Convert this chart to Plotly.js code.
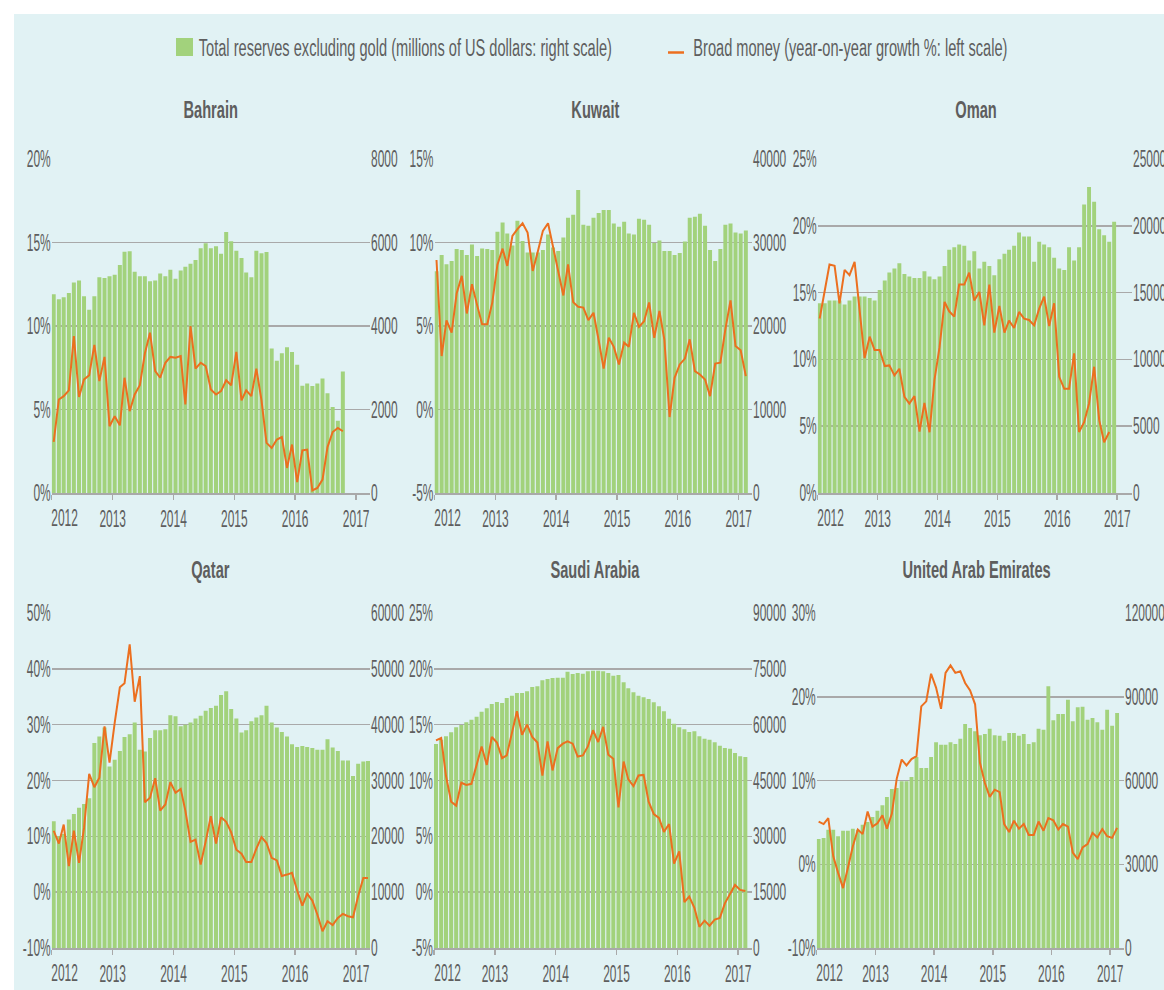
<!DOCTYPE html>
<html><head><meta charset="utf-8">
<script src="https://cdn.plot.ly/plotly-3.0.1.min.js"></script>
<style>html,body{margin:0;padding:0;background:#fff}#chart{width:1164px;height:990px}</style>
</head><body><div id="chart"></div>
<script>
// ---------------- DATA (monthly, starting January 2012) ----------------
const startYear = 2012;
const yearLabels = ['2012','2013','2014','2015','2016','2017'];
const legendReserves = 'Total reserves excluding gold (millions of US dollars: right scale)';
const legendMoney = 'Broad money (year-on-year growth %: left scale)';
const countries = ['Bahrain','Kuwait','Oman','Qatar','Saudi Arabia','United Arab Emirates'];

const bahrainReserves = [4760,4640,4690,4790,5040,5090,4710,4390,4710,5170,5150,5190,
 5230,5460,5780,5790,5300,5190,5190,5070,5090,5260,5190,5350,
 5130,5330,5420,5490,5580,5860,5980,5860,5910,5730,6250,6030,
 5800,5630,5280,5170,5800,5740,5770,3460,3170,3350,3490,3380,
 3070,2570,2620,2560,2620,2740,2390,2060,1730,2910];
const bahrainMoney = [3.06,5.6,5.8,6.15,9.4,5.75,6.8,7.05,8.87,6.7,8.15,4.0,
 4.6,4.05,6.9,4.9,5.9,6.45,8.35,9.6,7.3,6.9,7.8,8.15,
 8.1,8.2,5.3,10.0,7.45,7.8,7.6,6.2,5.9,6.1,6.75,6.45,
 8.45,5.55,6.15,5.8,7.45,5.55,3.0,2.7,3.2,3.35,1.5,2.9,
 0.65,2.55,2.6,0.15,0.3,0.8,2.75,3.65,3.9,3.7];

const kuwaitReserves = [26570,28490,27410,27770,29210,29090,28490,29770,28370,29290,29210,29090,
 31290,32410,31090,29650,32610,30170,28810,28810,28810,29090,30970,29410,
 28970,30610,32970,33330,36280,32130,32010,32970,33530,33890,33890,32290,
 31890,32490,31090,30970,32850,32730,32130,29930,30250,28970,28970,28490,
 28730,30130,32970,33090,33450,32010,29090,27770,29210,32130,32290,31210,
 31090,31450];
const kuwaitMoney = [8.95,3.2,5.33,4.6,6.95,8.0,5.75,7.5,6.25,5.1,5.1,6.4,
 8.67,9.63,8.6,10.4,10.8,11.15,10.6,8.3,9.47,10.7,11.15,9.67,
 8.2,6.83,8.69,6.43,6.15,6.1,5.35,5.79,4.15,2.45,4.3,3.75,
 2.7,4.0,3.75,5.79,4.95,5.29,6.41,4.29,5.9,4.15,-0.45,1.9,
 2.7,3.05,4.2,2.3,2.1,1.8,0.8,2.75,2.8,4.8,6.53,3.8,
 3.55,2.0];

const omanReserves = [14200,14200,14400,14400,14400,14100,14400,14700,14700,14700,14600,14400,
 15200,15900,16500,16800,17200,16400,16200,16100,16100,16600,16200,16000,
 16200,17000,18200,18400,18600,18500,17400,18100,16800,17300,17000,16300,
 17500,17900,18200,18500,19500,19200,19200,17300,18800,18600,18400,17600,
 16800,16700,18400,17400,18400,21600,22900,21800,19750,19300,18800,20300];
const omanMoney = [13.06,15.2,17.1,17.0,14.2,16.7,16.3,17.3,13.4,10.1,11.7,10.7,
 10.7,9.5,9.55,8.8,9.3,7.2,6.7,7.25,4.6,6.75,4.55,8.45,
 10.9,14.3,13.6,13.2,15.6,15.6,16.5,14.4,15.05,12.55,15.6,12.0,
 14.0,12.0,12.9,12.35,13.55,13.05,12.95,12.55,13.8,14.7,12.5,14.2,
 8.7,7.8,7.8,10.45,4.57,5.3,6.7,9.45,5.45,3.8,4.57];

const qatarReserves = [22700,20000,20400,23000,24000,25100,25800,26800,36700,37900,39500,32500,
 33700,35300,37800,38300,40400,35500,35200,37600,39000,39000,39200,41700,
 41500,39700,40000,40400,41100,41600,42500,43000,43400,45300,46000,42800,
 41100,38600,39000,40600,41300,41700,43400,40400,39500,38700,37900,36500,
 36000,36200,36000,35800,35500,35500,37400,35900,35300,33600,33600,30800,
 33000,33400,33500];
const qatarMoney = [11.0,8.7,12.1,4.65,11.0,5.25,11.5,21.2,18.8,20.5,29.7,23.2,
 30.3,36.7,37.4,44.4,34.1,38.7,16.1,16.9,20.4,14.6,15.7,19.7,
 17.8,18.5,14.6,9.0,9.4,4.95,9.1,13.6,8.7,13.4,12.6,10.7,
 7.6,6.9,5.4,5.4,7.8,9.85,8.8,6.15,5.7,2.9,3.15,3.45,
 0.3,-2.4,-0.3,-1.5,-4.0,-7.0,-5.2,-5.9,-4.6,-3.9,-4.3,-4.5,
 -0.7,2.55,2.55];

const saudiReserves = [54800,55970,56860,57940,59280,59910,60620,61340,62150,63490,64390,65550,
 66090,65820,67160,67790,68510,68510,68950,70120,70300,71910,72270,72540,
 72630,72630,74240,73610,73880,73700,74330,74510,74510,74330,73880,73160,
 73340,71370,69760,68680,67790,67340,66900,66000,64920,63580,61610,60270,
 59280,58750,58030,58210,56860,56240,55970,55250,54360,53730,53550,52390,
 51490,51310];
const saudiMoney = [13.6,13.8,10.4,8.1,7.75,9.8,9.6,9.7,11.4,13.05,11.4,13.9,
 13.4,12.0,12.25,14.25,16.2,14.1,15.0,13.9,13.4,10.45,13.5,10.9,
 12.9,13.3,13.5,13.3,12.15,12.25,13.05,14.5,13.45,14.8,12.3,11.95,
 7.6,11.7,10.1,9.5,10.45,10.5,8.1,7.0,6.65,5.4,6.1,2.55,
 3.65,-0.9,-0.4,-1.4,-3.1,-2.55,-3.0,-2.45,-2.3,-1.0,-0.1,0.65,
 0.2,0.1];

const uaeReserves = [39040,39400,42390,42390,40000,42030,42030,42750,42390,44180,45130,46920,
 49190,51100,54090,56950,57310,59700,59700,61250,68420,64480,64480,68420,
 73670,72830,72830,73670,73070,74980,80240,78800,77610,76180,76650,78570,
 76180,76060,74270,77010,77010,76060,76650,73070,73670,78570,78210,93730,
 81550,83820,83820,88950,81190,86210,86450,81790,82390,80830,78210,85370,
 79640,84180];
const uaeMoney = [5.1,4.8,5.5,0.95,-1.0,-2.85,-0.45,2.15,4.15,3.6,6.3,4.5,
 4.9,5.85,4.25,6.05,10.2,12.5,11.8,12.55,12.9,18.85,19.45,22.75,
 21.1,18.55,22.85,23.75,22.85,23.05,21.65,20.75,19.1,12.15,9.7,8.05,
 8.9,8.6,4.8,3.85,5.2,4.25,4.8,3.5,3.5,5.1,4.0,5.5,
 5.25,4.15,4.8,4.5,1.4,0.6,2.0,2.4,3.75,3.2,4.2,3.35,
 3.15,4.35];

// ---------------- STYLE / LAYOUT ----------------
const W = 1164, H = 990;
const FONT = '"Liberation Sans", Arial, sans-serif';
const TXT = '#5e5e5e';
const GREEN = '#a2d27c';
const ORANGE = '#ec6f1f';
const GRID = '#a9a9a9';
const BG = '#e1f2f4';
const TICK_SIZE = 23, TITLE_SIZE = 24, LEGEND_SIZE = 23;
const K_TICK = 0.52, K_TITLE = 0.61, K_LEGEND = 0.635;   // horizontal condensing of the type
const px = x => x / W;
const py = y => 1 - y / H;

const months = [];
for (let y = startYear; y <= 2017; y++) for (let m = 1; m <= 12; m++)
  months.push(y + '-' + String(m).padStart(2, '0') + '-13');
const yearTicks = yearLabels.map(y => y + '-01-01');

const panels = [
  {res: bahrainReserves, money: bahrainMoney, xp: [51.7, 370], yp: [159, 493], end: '2017-03-25', rmax: 8000, rdt: 2000, lmin: 0, lmax: 20, ldt: 5, tx: 210, ty: 109},
  {res: kuwaitReserves, money: kuwaitMoney, xp: [434.5, 752], yp: [159, 493], end: '2017-03-22', rmax: 40000, rdt: 10000, lmin: -5, lmax: 15, ldt: 5, tx: 595, ty: 109},
  {res: omanReserves, money: omanMoney, xp: [817.7, 1132], yp: [159, 493], end: '2017-04-01', rmax: 25000, rdt: 5000, lmin: 0, lmax: 25, ldt: 5, tx: 976, ty: 109},
  {res: qatarReserves, money: qatarMoney, xp: [51.7, 370], yp: [613, 948], end: '2017-03-25', rmax: 60000, rdt: 10000, lmin: -10, lmax: 50, ldt: 10, tx: 210, ty: 569},
  {res: saudiReserves, money: saudiMoney, xp: [434, 752], yp: [613, 948], end: '2017-03-25', rmax: 90000, rdt: 15000, lmin: -5, lmax: 25, ldt: 5, tx: 595, ty: 569},
  {res: uaeReserves, money: uaeMoney, xp: [816.7, 1124], yp: [613, 948], end: '2017-03-28', rmax: 120000, rdt: 30000, lmin: -10, lmax: 30, ldt: 10, tx: 976, ty: 569}
];

const traces = [];
const layout = {
  width: W, height: H,
  margin: {l: 0, r: 0, t: 0, b: 0},
  paper_bgcolor: '#ffffff', plot_bgcolor: 'rgba(0,0,0,0)',
  showlegend: false, hovermode: false, bargap: 0.2,
  font: {family: FONT, size: TICK_SIZE, color: TXT},
  shapes: [
    {type: 'rect', xref: 'paper', yref: 'paper', x0: px(14), x1: 1, y0: 0, y1: py(14), fillcolor: BG, line: {width: 0}, layer: 'below'},
    {type: 'rect', xref: 'paper', yref: 'paper', x0: px(176), x1: px(193), y0: py(56), y1: py(38), fillcolor: GREEN, line: {width: 0}},
    {type: 'line', xref: 'paper', yref: 'paper', x0: px(668), x1: px(684), y0: py(52.5), y1: py(52.5), line: {color: ORANGE, width: 2.5}}
  ],
  annotations: [
    {text: legendReserves, xref: 'paper', yref: 'paper', x: px(405.5), y: py(48), xanchor: 'center', yanchor: 'middle', showarrow: false, font: {family: FONT, size: LEGEND_SIZE, color: TXT}},
    {text: legendMoney, xref: 'paper', yref: 'paper', x: px(850.5), y: py(48), xanchor: 'center', yanchor: 'middle', showarrow: false, font: {family: FONT, size: LEGEND_SIZE, color: TXT}}
  ]
};

const range = (a, b, s) => { const r = []; for (let v = a; v <= b + 1e-9; v += s) r.push(v); return r; };

panels.forEach((p, i) => {
  const xa = 'x' + (i ? i + 1 : '');
  const yb = 'y' + (2 * i + 1 === 1 ? '' : 2 * i + 1);
  const yo = 'y' + (2 * i + 2);
  const xk = 'xaxis' + (i ? i + 1 : '');
  const ybk = 'yaxis' + (2 * i + 1 === 1 ? '' : 2 * i + 1);
  const yok = 'yaxis' + (2 * i + 2);
  const dom = [px(p.xp[0]), px(p.xp[1])];
  const ydom = [py(p.yp[1]), py(p.yp[0])];

  traces.push({type: 'bar', x: months.slice(0, p.res.length), y: p.res, xaxis: xa, yaxis: yb,
    marker: {color: GREEN, line: {width: 0}}, width: 24 * 86400000, name: legendReserves});
  traces.push({type: 'scatter', mode: 'lines', x: months.slice(0, p.money.length), y: p.money, xaxis: xa, yaxis: yo,
    line: {color: ORANGE, width: 2}, name: legendMoney});

  layout[xk] = {domain: dom, anchor: yb, type: 'date', range: [startYear + '-01-01', p.end],
    tickmode: 'array', tickvals: yearTicks, ticktext: yearLabels.map((t, k) => k === 0 ? '' : t),
    ticks: 'outside', ticklen: 5, tickwidth: 1.5, tickcolor: GRID,
    showline: true, linecolor: GRID, linewidth: 1.5, showgrid: false, zeroline: false,
    ticklabelstandoff: 0, tickfont: {family: FONT, size: TICK_SIZE, color: TXT}, fixedrange: true};

  const rv = range(0, p.rmax, p.rdt);
  layout[ybk] = {domain: ydom, anchor: xa, side: 'right', range: [0, p.rmax],
    tickmode: 'array', tickvals: rv, ticktext: rv.map(v => String(v)),
    showgrid: true, gridcolor: GRID, gridwidth: 1.5, zeroline: false, showline: false, ticks: '',
    tickfont: {family: FONT, size: TICK_SIZE, color: TXT}, fixedrange: true};

  const lv = range(p.lmin, p.lmax, p.ldt);
  layout[yok] = {overlaying: yb, anchor: xa, side: 'left', range: [p.lmin, p.lmax],
    tickmode: 'array', tickvals: lv, ticktext: lv.map(v => String(v) + '%'),
    showgrid: false, zeroline: false, showline: false, ticks: '',
    tickfont: {family: FONT, size: TICK_SIZE, color: TXT}, fixedrange: true};

  // first year label sits right of its tick, flush with the plot edge
  layout.annotations.push({text: yearLabels[0], xref: 'paper', yref: 'paper', x: px(p.xp[0] + 13),
    y: py(p.yp[1] + 25), xanchor: 'center', yanchor: 'middle', showarrow: false,
    font: {family: FONT, size: TICK_SIZE, color: TXT}});
  // panel title
  layout.annotations.push({text: '<b>' + countries[i] + '</b>', xref: 'paper', yref: 'paper',
    x: px(p.tx), y: py(p.ty), xanchor: 'center', yanchor: 'middle', showarrow: false,
    font: {family: FONT, size: TITLE_SIZE, color: TXT}});
});

Plotly.newPlot('chart', traces, layout, {staticPlot: true, displayModeBar: false}).then(gd => {
  // emulate the tall condensed typeface of the original by condensing glyphs horizontally
  gd.querySelectorAll('svg text').forEach(t => {
    const s = t.textContent.trim();
    if (!s) return;
    let k = K_TICK;
    if (t.closest('.annotation') && !/^\d{4}$/.test(s)) {
      k = (s === legendReserves || s === legendMoney) ? K_LEGEND : K_TITLE;
    }
    const w = t.getComputedTextLength();
    if (w > 0) {
      t.setAttribute('textLength', (w * k).toFixed(2));
      t.setAttribute('lengthAdjust', 'spacingAndGlyphs');
    }
  });
});
</script></body></html>
